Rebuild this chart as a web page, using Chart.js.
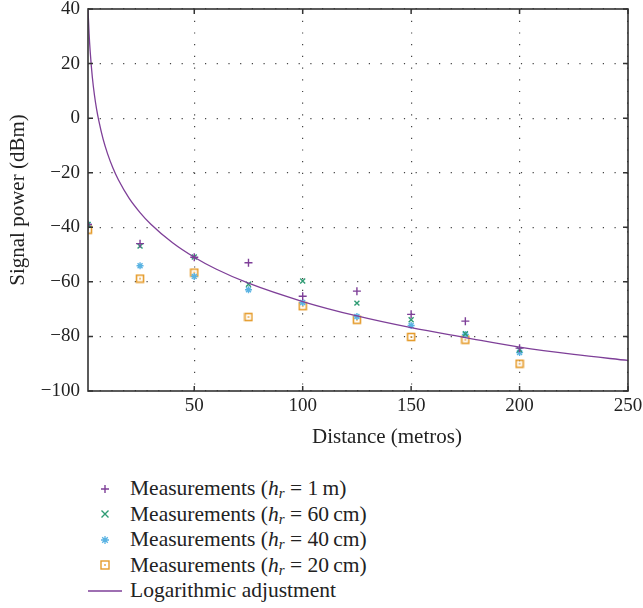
<!DOCTYPE html>
<html>
<head>
<meta charset="utf-8">
<script src="https://cdn.jsdelivr.net/npm/chart.js@4.4.1/dist/chart.umd.min.js"></script>
<style>
  body { margin: 0; background: #fff; }
  #wrap { position: relative; width: 643px; height: 470px; }
  #legend { position: absolute; left: 80px; top: 476px; font-family: "Liberation Serif", "DejaVu Serif", serif; font-size: 21.5px; color: #222; }
  #legend .row { height: 25.5px; line-height: 25.5px; white-space: nowrap; display: flex; align-items: center; }
  #legend .mark { width: 50px; display: inline-flex; justify-content: center; }
  #legend sub { font-size: 15px; vertical-align: -3px; line-height: 0; }
</style>
</head>
<body>
<div id="wrap"><canvas id="myChart" width="643" height="470"></canvas></div>
<div id="legend"></div>
<script>
// distances where each receiver height was measured
const distances = [1, 25, 50, 75, 100, 125, 150, 175, 200];

// measured power (dBm) per receiver height
const power1m = [-39, -46, -51, -53, -65.3, -63.4, -71.9, -74.4, -84.3];
const power60cm = [-39, -46.9, -50.9, -60.9, -59.7, -67.8, -73.9, -79, -84.9];
const power40cm = [-39, -54.1, -58, -62.9, -67.6, -72.7, -76, -79.3, -85.9];
const power20cm = [-40.9, -58.8, -56.6, -72.9, -68.9, -73.9, -80.2, -81.2, -90];

// fitted logarithmic curve
const fitDistances = [1, 1.5, 2, 3, 4, 5, 6, 8, 10, 12.5, 15, 20, 25, 30, 40, 50, 60, 75, 100, 125, 150, 175, 200, 225, 250];
const fitPower = [40, 31, 24.5, 15, 8.3, 3.1, -1, -7.8, -13, -18.3, -22.6, -29.4, -34.6, -38.9, -45.7, -51, -55.3, -60.5, -67.2, -72.5, -76.8, -80.4, -83.9, -86.6, -88.8];

const xTicks = [50, 100, 150, 200, 250];
const yTicks = [-100, -80, -60, -40, -20, 0, 20, 40];

const xTitle = "Distance (metros)";
const yTitle = "Signal power (dBm)";

const purple = "#7e3f98";
const green = "#2f9c74";
const blue = "#5ab3e3";
const orange = "#e59c2c";
const serif = "'Liberation Serif', 'DejaVu Serif', serif";

function squareMarker (color)
{
    const c = document.createElement("canvas");
    c.width = 10; c.height = 10;
    const g = c.getContext("2d");
    g.strokeStyle = color;
    g.lineWidth = 1.6;
    g.strokeRect(1.5, 1.5, 7, 7);
    g.fillStyle = color;
    g.fillRect(4.2, 4.2, 1.6, 1.6);
    return c;
}

function toPoints (xs, ys)
{
    return xs.map((x, i) => ({x: x, y: ys[i]}));
}

function scatter (label, ys, color, style, radius)
{
    return {
        type: "scatter",
        label: label,
        data: toPoints(distances, ys),
        borderColor: color,
        backgroundColor: color,
        pointStyle: style,
        pointRadius: radius,
        pointBorderWidth: 1.4,
        showLine: false
    };
}

// frame, inward tick marks on all four sides and the axis titles
const framePlugin = {
    id: "frame",
    afterDraw (chart)
    {
        const {ctx, chartArea: a, scales} = chart;
        ctx.save();
        ctx.strokeStyle = "#333";
        ctx.lineWidth = 1.5;
        ctx.beginPath();
        xTicks.forEach(v => {
            const px = scales.x.getPixelForValue(v);
            ctx.moveTo(px, a.bottom); ctx.lineTo(px, a.bottom - 5);
            ctx.moveTo(px, a.top); ctx.lineTo(px, a.top + 5);
        });
        yTicks.forEach(v => {
            const py = scales.y.getPixelForValue(v);
            ctx.moveTo(a.left, py); ctx.lineTo(a.left + 5, py);
            ctx.moveTo(a.right, py); ctx.lineTo(a.right - 5, py);
        });
        ctx.stroke();
        ctx.lineWidth = 1.6;
        ctx.strokeRect(a.left, a.top, a.right - a.left, a.bottom - a.top);

        ctx.fillStyle = "#222";
        ctx.font = "21px " + serif;
        ctx.textAlign = "center";
        ctx.textBaseline = "middle";
        ctx.fillText(xTitle, 387, 437);
        ctx.translate(18, (a.top + a.bottom) / 2);
        ctx.rotate(-Math.PI / 2);
        ctx.fillText(yTitle, 0, 0);
        ctx.restore();
    }
};

const ctx = document.getElementById("myChart");

new Chart(ctx, {
    data: {
        datasets: [
            {
                type: "line",
                label: "Logarithmic adjustment",
                data: toPoints(fitDistances, fitPower),
                borderColor: purple,
                borderWidth: 1.3,
                pointRadius: 0,
                cubicInterpolationMode: "monotone",
                fill: false,
                order: 0
            },
            Object.assign(scatter("1m", power1m, purple, "cross", 4), {order: 1}),
            Object.assign(scatter("60cm", power60cm, green, "crossRot", 3.5), {order: 2}),
            Object.assign(scatter("40cm", power40cm, blue, "star", 3.5), {order: 3}),
            Object.assign(scatter("20cm", power20cm, orange, squareMarker(orange), 5), {order: 4})
        ]
    },
    options: {
        responsive: false,
        animation: false,
        layout: {padding: {top: 9, right: 15, bottom: 0, left: 0}},
        plugins: {legend: {display: false}, tooltip: {enabled: false}},
        scales: {
            x: {
                type: "linear",
                min: 1,
                max: 250,
                afterBuildTicks: (scale) => { scale.ticks = xTicks.map(v => ({value: v})); },
                afterFit: (scale) => { scale.height = 79; scale.paddingLeft = 0; scale.paddingRight = 0; },
                border: {display: false, dash: [1.2, 10.5]},
                grid: {color: "#444", lineWidth: 1.2, drawTicks: false},
                ticks: {color: "#222", padding: 4, font: {family: serif, size: 19}, maxRotation: 0}
            },
            y: {
                type: "linear",
                min: -100,
                max: 40,
                afterBuildTicks: (scale) => { scale.ticks = yTicks.map(v => ({value: v})); },
                afterFit: (scale) => { scale.width = 88; scale.paddingTop = 0; scale.paddingBottom = 0; },
                border: {display: false, dash: [1.2, 10.5]},
                grid: {color: "#444", lineWidth: 1.2, drawTicks: false},
                ticks: {color: "#222", padding: 8, font: {family: serif, size: 19}, callback: (v) => String(v).replace("-", "\u2212")}
            }
        }
    },
    plugins: [framePlugin]
});

// legend below the chart, with italic h_r in the labels
const legendItems = [
    {mark: `<svg width="12" height="12"><path d="M6 2V10M2 6H10" stroke="${purple}" stroke-width="1.4"/></svg>`, text: "Measurements (<i>h</i><sub><i>r</i></sub> = 1\u2009m)"},
    {mark: `<svg width="12" height="12"><path d="M2.5 2.5L9.5 9.5M9.5 2.5L2.5 9.5" stroke="${green}" stroke-width="1.4"/></svg>`, text: "Measurements (<i>h</i><sub><i>r</i></sub> = 60\u2009cm)"},
    {mark: `<svg width="12" height="12"><path d="M6 2V10M2 6H10M3.2 3.2L8.8 8.8M8.8 3.2L3.2 8.8" stroke="${blue}" stroke-width="1.3"/></svg>`, text: "Measurements (<i>h</i><sub><i>r</i></sub> = 40\u2009cm)"},
    {mark: `<svg width="12" height="12"><rect x="2" y="2" width="8" height="8" fill="none" stroke="${orange}" stroke-width="1.4"/><rect x="5.2" y="5.2" width="1.6" height="1.6" fill="${orange}"/></svg>`, text: "Measurements (<i>h</i><sub><i>r</i></sub> = 20\u2009cm)"},
    {mark: `<svg width="36" height="12"><path d="M1 6H35" stroke="${purple}" stroke-width="1.3"/></svg>`, text: "Logarithmic adjustment"}
];

const legend = document.getElementById("legend");
legendItems.forEach(item => {
    const row = document.createElement("div");
    row.className = "row";
    row.innerHTML = `<span class="mark">${item.mark}</span><span>${item.text}</span>`;
    legend.appendChild(row);
});
</script>
</body>
</html>
